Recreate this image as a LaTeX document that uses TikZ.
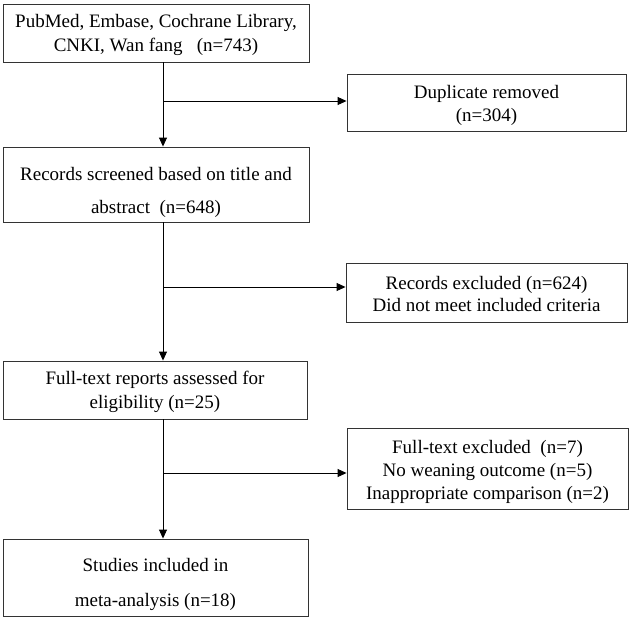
\documentclass[tikz,border=0pt]{standalone}
\usepackage{fontspec}
\setmainfont{Liberation Serif}
\usetikzlibrary{arrows.meta}
\begin{document}
\begin{tikzpicture}[x=1pt,y=-1pt,
  box/.style={draw=black!80, line width=0.9pt, inner sep=0pt},
  txt/.style={inner sep=0pt, align=center, font=\fontsize{19}{24}\selectfont},
  widetxt/.style={txt, font=\fontsize{19}{33}\selectfont},
  arr/.style={draw=black, line width=0.9pt, -{Triangle[length=9pt,width=8pt]}}]
\useasboundingbox (0,0) rectangle (630,619);
% main column boxes
\node[box, minimum width=306pt, minimum height=58pt] (b1) at (156,33) {};
\node[box, minimum width=306pt, minimum height=75pt] (b2) at (156,184.5) {};
\node[box, minimum width=304pt, minimum height=58pt] (b3) at (155,390) {};
\node[box, minimum width=305pt, minimum height=77pt] (b4) at (155.5,577.5) {};
% side boxes
\node[box, minimum width=279pt, minimum height=57pt] (d1) at (486.5,102.5) {};
\node[box, minimum width=281pt, minimum height=59pt] (d2) at (486.5,292.5) {};
\node[box, minimum width=281pt, minimum height=81pt] (d3) at (487.5,468.5) {};
% texts
\node[txt] (b1t) at ([yshift=-2pt]b1.center)
  {PubMed, Embase, Cochrane Library,\\CNKI, Wan fang \ \ (n=743)};
\node[widetxt] (b2t) at ([yshift=-8pt]b2.center)
  {Records screened based on title and\\abstract \ (n=648)};
\node[txt] (b3t) at ([yshift=-2pt]b3.center)
  {Full-text reports assessed for\\eligibility (n=25)};
\node[widetxt, font=\fontsize{19}{35}\selectfont] (b4t) at ([yshift=-7pt]b4.center)
  {Studies included in\\meta-analysis (n=18)};
\node[txt, font=\fontsize{19}{23}\selectfont] (d1t) at ([yshift=-3pt]d1.center)
  {Duplicate removed\\(n=304)};
\node[txt, font=\fontsize{19}{22}\selectfont] (d2t) at ([yshift=-1pt]d2.center)
  {Records excluded (n=624)\\Did not meet included criteria};
\node[txt, font=\fontsize{19}{23}\selectfont] (d3t) at ([yshift=-3pt]d3.center)
  {Full-text excluded \ (n=7)\\No weaning outcome (n=5)\\Inappropriate comparison (n=2)};
% connectors
\coordinate (vx) at (163,0);
\coordinate (j1) at (163,101);
\coordinate (j2) at (163,287);
\coordinate (j3) at (163,473);
\draw[arr] (b1.south -| vx) -- (b2.north -| vx);
\draw[arr] (b2.south -| vx) -- (b3.north -| vx);
\draw[arr] (b3.south -| vx) -- (b4.north -| vx);
\draw[arr] (j1) -- (j1 -| d1.west);
\draw[arr] (j2) -- (j2 -| d2.west);
\draw[arr] (j3) -- (j3 -| d3.west);
\end{tikzpicture}
\end{document}
